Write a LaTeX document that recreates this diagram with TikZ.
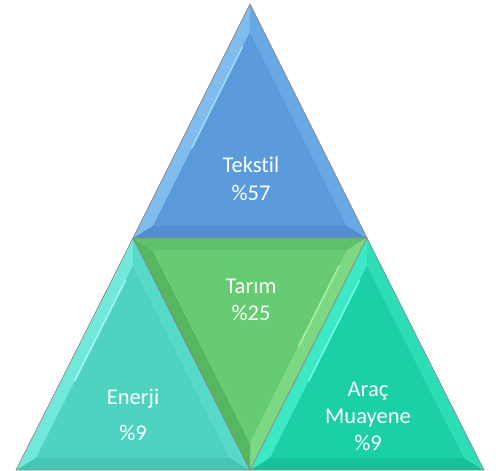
\documentclass[tikz,border=0pt]{standalone}
\usepackage{fontspec}
\setmainfont[Ligatures={NoCommon}]{Carlito}
\usetikzlibrary{calc}
\definecolor{bface}{HTML}{5B9BDB}
\definecolor{bleft}{HTML}{80BBEE}
\definecolor{bright}{HTML}{68A8E4}
\definecolor{bbot}{HTML}{5190D0}
\definecolor{bhi}{HTML}{A8D6F8}
\definecolor{gface}{HTML}{66CB72}
\definecolor{gtop}{HTML}{5EC268}
\definecolor{gleft}{HTML}{55B85E}
\definecolor{gright}{HTML}{7DD883}
\definecolor{ghi}{HTML}{A6EFA6}
\definecolor{lface}{HTML}{4ED3C0}
\definecolor{lleft}{HTML}{72E8DA}
\definecolor{lright}{HTML}{57D9C7}
\definecolor{lbot}{HTML}{45C5B3}
\definecolor{lhi}{HTML}{9EF8F0}
\definecolor{rface}{HTML}{1BCFA7}
\definecolor{rleft}{HTML}{3CE9C7}
\definecolor{rright}{HTML}{2CDDB8}
\definecolor{rbot}{HTML}{15C29C}
\definecolor{rhi}{HTML}{6FFBE4}
\tikzset{
  outline/.style={draw=black!45, line width=0.7pt, line join=round},
  hiline/.style={line width=1.6pt, line cap=round},
  lbl/.style={text=white, anchor=base, inner sep=0pt, font=\fontsize{22.5}{27}\selectfont}
}
% #1 A, #2 B, #3 C, #4 incentre, #5 face, #6 facet AB, #7 facet BC, #8 facet CA
\newcommand{\bevtri}[8]{%
  \coordinate (pA) at #1; \coordinate (pB) at #2; \coordinate (pC) at #3; \coordinate (pI) at #4;
  \coordinate (qA) at ($(pI)!0.83!(pA)$);
  \coordinate (qB) at ($(pI)!0.83!(pB)$);
  \coordinate (qC) at ($(pI)!0.83!(pC)$);
  \fill[fill=#6] (pA)--(pB)--(qB)--(qA)--cycle;
  \fill[fill=#7] (pB)--(pC)--(qC)--(qB)--cycle;
  \fill[fill=#8] (pC)--(pA)--(qA)--(qC)--cycle;
  \fill[fill=#5] (qA)--(qB)--(qC)--cycle;
  \draw[outline] (pA)--(pB)--(pC)--cycle;
}
\begin{document}
\begin{tikzpicture}[x=1pt,y=-1pt]
\useasboundingbox[fill=white] (0,0) rectangle (502,470);
% top
\bevtri{(250,4)}{(133,238)}{(367,238)}{(250,166)}{bface}{bleft}{bbot}{bright}
\draw[hiline, bhi] ($(qA)!0.08!(qB)$) -- ($(qA)!0.6!(qB)$);
% left
\bevtri{(133,238)}{(16,470)}{(250,470)}{(133,398)}{lface}{lleft}{lbot}{lright}
\draw[hiline, lhi] ($(qA)!0.08!(qB)$) -- ($(qA)!0.6!(qB)$);
% right
\bevtri{(367,238)}{(250,470)}{(484,470)}{(367,398)}{rface}{rleft}{rbot}{rright}
\draw[hiline, rhi] ($(qA)!0.08!(qB)$) -- ($(qA)!0.6!(qB)$);
% middle (inverted)
\bevtri{(133,238)}{(367,238)}{(250,470)}{(250,310)}{gface}{gtop}{gright}{gleft}
\draw[hiline, ghi] ($(qB)!0.08!(qC)$) -- ($(qB)!0.5!(qC)$);
% labels
\node[lbl] (tek1) at (251,173) {Tekstil};
\node[lbl] (tek2) at (251,200) {\%57};
\node[lbl] (tar1) at (251,293) {Tarım};
\node[lbl] (tar2) at (251,320) {\%25};
\node[lbl] (ene1) at (133,404) {Enerji};
\node[lbl] (ene2) at (133,440) {\%9};
\node[lbl] (ara1) at (368,396) {Araç};
\node[lbl] (ara2) at (368,423) {Muayene};
\node[lbl] (ara3) at (368,450) {\%9};
\end{tikzpicture}
\end{document}
